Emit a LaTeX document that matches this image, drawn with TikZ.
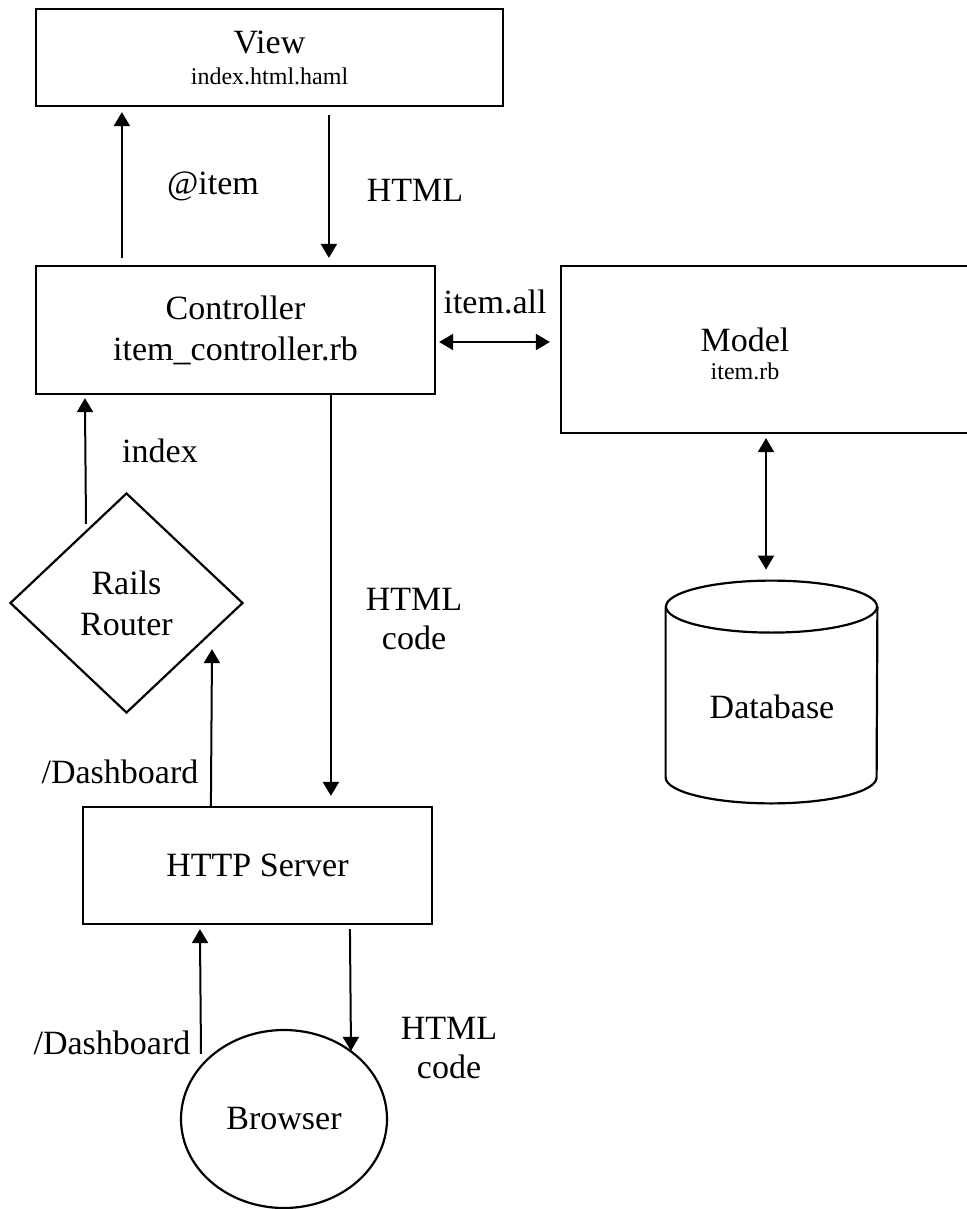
\documentclass[tikz,border=0pt]{standalone}
\usepackage{fontspec}
\setmainfont{Liberation Serif}
\usetikzlibrary{shapes.geometric,arrows.meta}

\newcommand{\filetxt}[1]{{\fontsize{12}{14}\selectfont #1}}

\tikzset{
    box/.style={draw, black, line width=1.1pt, inner sep=0pt, align=center, font=\fontsize{17}{20.5}\selectfont},
    lbl/.style={align=center, inner sep=0pt, font=\fontsize{17}{19.5}\selectfont},
    arr/.style={black, line width=1pt, -{Triangle[length=7pt,width=8pt]}},
    dblarr/.style={black, line width=1pt, {Triangle[length=7pt,width=8pt]}-{Triangle[length=7pt,width=8pt]}}
}

\begin{document}
\begin{tikzpicture}[x=0.5pt,y=-0.5pt]
        \useasboundingbox[fill=white] (0,0) rectangle (966,1209);
        \node[box, minimum width=233.5pt, minimum height=48.5pt] (view) at (269.5,57.5) {View\\[-5pt]\filetxt{index.html.haml}};
        \node[box, minimum width=199.5pt, minimum height=64pt] (ctrl) at (235.5,330) {Controller\\item\_controller.rb};
        \node[box, minimum width=219.5pt, minimum height=83.5pt] (model) at (780.5,349.5) {};
        \node[lbl] (modeltxt) at (745,354) {Model\\[-5.5pt]\filetxt{item.rb}};
        \node[box, diamond, minimum width=116.5pt, minimum height=110pt] (router) at (126.5,603) {Rails\\Router};
        \node[box, minimum width=174.5pt, minimum height=58.5pt] (http) at (257.5,865.5) {HTTP Server};
        \node[box, ellipse, minimum width=103pt, minimum height=89pt] (browser) at (284,1119) {Browser};
        \node[inner sep=0pt, minimum width=105.5pt, minimum height=111pt] (db) at (771.5,692) {};
        \draw[line width=1.1pt] ([yshift=-13pt]db.north) ellipse [x radius=52.75pt, y radius=13pt];
        \draw[line width=1.1pt] ([yshift=-13pt]db.north west) -- ([yshift=13pt]db.south west)
            arc[start angle=180, end angle=360, x radius=52.75pt, y radius=13pt] -- ([yshift=-13pt]db.north east);
        \node[lbl] (dbtxt) at (772,707) {Database};

        \draw[arr, shorten <=3.5pt, shorten >=2.5pt] ([xshift=43.5pt]ctrl.north west) -- ([xshift=43.5pt]view.south west);
        \draw[arr, shorten <=4pt, shorten >=3.5pt] ([xshift=147pt]view.south west) -- ([xshift=147pt]ctrl.north west);
        \draw[dblarr, shorten <=1.5pt, shorten >=5pt] ([yshift=-6pt]ctrl.east) -- ([yshift=3.75pt]model.west);
        \draw[dblarr, shorten <=2pt, shorten >=5.5pt] ([xshift=-7.25pt]model.south) -- ([xshift=-2.75pt]db.north);
        \draw[arr, shorten >=1.5pt] ([shift={(-20.25pt,-16pt)}]router.north) -- ([xshift=25pt]ctrl.south west);
        \draw[arr] ([xshift=64.5pt]http.north west) -- ([shift={(42.75pt,32.5pt)}]router.south);
        \draw[arr, shorten >=5pt] ([xshift=148pt]ctrl.south west) -- ([xshift=124.5pt]http.north west);
        \draw[arr, shorten >=2pt] ([shift={(-41.5pt,-12.5pt)}]browser.north) -- ([xshift=59pt]http.south west);
        \draw[arr, shorten <=2pt] ([xshift=134pt]http.south west) -- ([shift={(33.5pt,-11pt)}]browser.north);

        \node[lbl] (itemlbl) at (213,186) {@item};
        \node[lbl] (htmllbl) at (415,190) {HTML};
        \node[lbl] (alllbl) at (495,302) {item.all};
        \node[lbl] (indexlbl) at (160,451) {index};
        \node[lbl] (codelbl) at (414,619) {HTML\\code};
        \node[lbl] (dashlbl) at (120,772) {/Dashboard};
        \node[lbl] (dashlbl2) at (112,1043) {/Dashboard};
        \node[lbl] (codelbl2) at (449,1048) {HTML\\code};
    \end{tikzpicture}
\end{document}
